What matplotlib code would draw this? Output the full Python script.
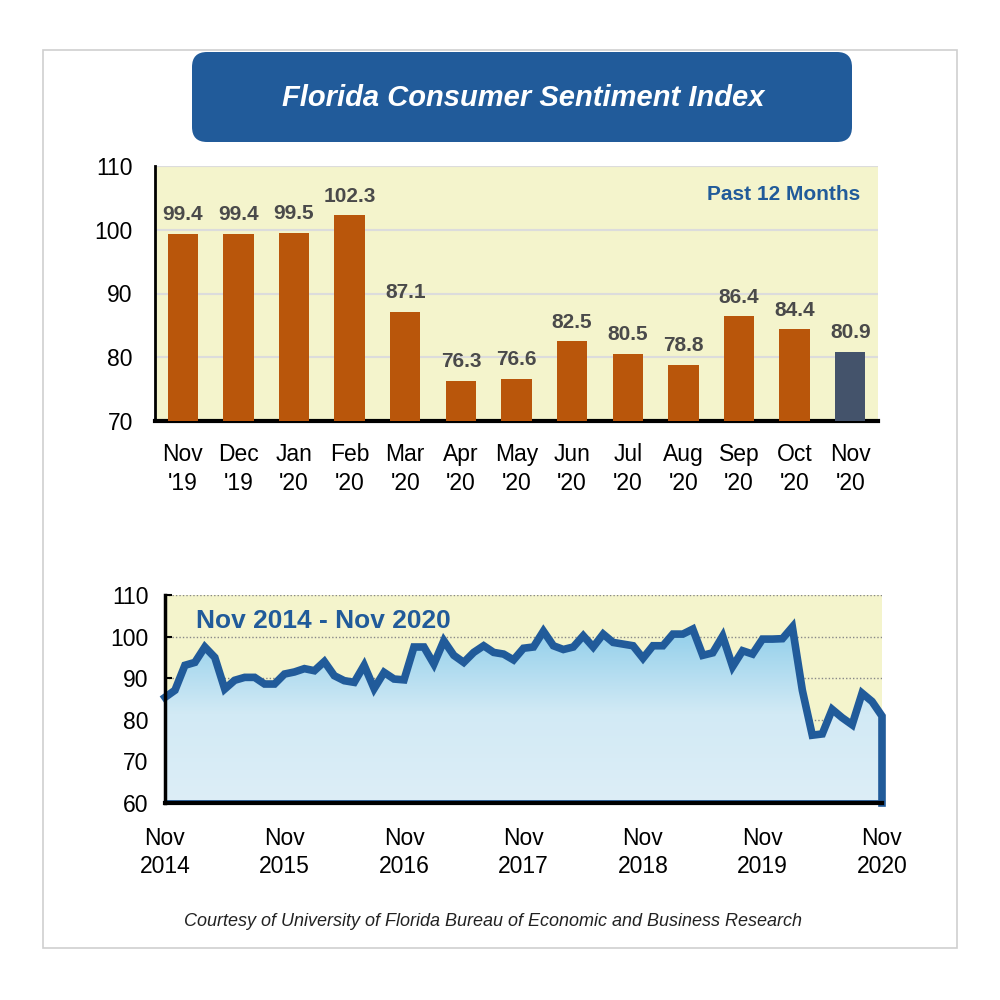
import matplotlib
matplotlib.use("Agg")
import matplotlib.pyplot as plt
import numpy as np
from matplotlib.patches import FancyBboxPatch, Rectangle, Polygon
from matplotlib.colors import LinearSegmentedColormap

FONT = ['Liberation Sans Narrow', 'Liberation Sans', 'DejaVu Sans']
plt.rcParams['font.family'] = FONT

# past 12 months
meses = ["Nov\n'19", "Dec\n'19", "Jan\n'20", "Feb\n'20", "Mar\n'20", "Apr\n'20", "May\n'20",
         "Jun\n'20", "Jul\n'20", "Aug\n'20", "Sep\n'20", "Oct\n'20", "Nov\n'20"]
valores = [99.4, 99.4, 99.5, 102.3, 87.1, 76.3, 76.6, 82.5, 80.5, 78.8, 86.4, 84.4, 80.9]

# serie mensal nov 2014 - out 2019, depois os 13 ultimos meses
historico = [85.4, 87.1,
             93.1, 93.8, 97.5, 95.0, 87.4, 89.5, 90.2, 90.2, 88.6, 88.6, 91.0, 91.5,
             92.3, 91.8, 94.0, 90.6, 89.4, 89.0, 93.1, 87.5, 91.4, 89.8, 89.6, 97.5,
             97.5, 93.4, 99.0, 95.5, 93.8, 96.2, 97.8, 96.2, 95.8, 94.4, 97.2, 97.5,
             101.3, 97.8, 96.9, 97.5, 100.2, 97.5, 100.6, 98.6, 98.2, 97.8, 94.8, 97.8,
             97.8, 100.6, 100.6, 101.8, 95.5, 96.1, 100.1, 92.8, 96.6, 95.8]
serie = historico + valores
anos = ["Nov\n2014", "Nov\n2015", "Nov\n2016", "Nov\n2017", "Nov\n2018", "Nov\n2019", "Nov\n2020"]

laranja = '#B9560B'
escuro = '#44536B'
azul = '#215B9A'
amarelo = '#F4F4CC'

fig = plt.figure(figsize=(10, 10), dpi=100, facecolor='w')

# moldura e titulo
fig.patches.append(Rectangle((0.043, 0.052), 0.914, 0.898, transform=fig.transFigure,
                             fill=False, edgecolor='#CFCFCF', linewidth=1.2))
fig.patches.append(FancyBboxPatch((0.207, 0.873), 0.63, 0.06, transform=fig.transFigure,
                                  boxstyle='round,pad=0.015,rounding_size=0.015',
                                  facecolor=azul, edgecolor='none'))
fig.text(0.523, 0.902, 'Florida Consumer Sentiment Index', color='w', fontsize=21,
         fontweight='bold', fontstyle='italic', ha='center', va='center')

# grafico de barras
ax1 = fig.add_axes([0.155, 0.579, 0.723, 0.255])
ax1.set_facecolor(amarelo)
x = np.arange(len(valores))
cores = [laranja] * (len(valores) - 1) + [escuro]
ax1.bar(x, [v - 70 for v in valores], bottom=70, width=0.545, color=cores, zorder=3)
for i, v in enumerate(valores):
    ax1.text(i, v + 1.5, f'{v:.1f}', ha='center', va='bottom', fontsize=15,
             fontweight='bold', color='#4A4A4A', zorder=4)
ax1.set_xlim(-0.5, 12.5)
ax1.set_ylim(70, 110)
ax1.set_yticks([70, 80, 90, 100, 110])
ax1.set_xticks(x)
ax1.set_xticklabels(meses, fontsize=16.5, linespacing=1.3)
ax1.tick_params(axis='y', length=0, pad=16, labelsize=16.5)
ax1.tick_params(axis='x', length=0, pad=16)
ax1.grid(axis='y', color='#DCDCDC', linewidth=1.5, zorder=1)
for s in ['top', 'right']:
    ax1.spines[s].set_visible(False)
ax1.spines['left'].set_linewidth(2)
ax1.spines['bottom'].set_linewidth(3)
ax1.text(0.975, 0.89, 'Past 12 Months', transform=ax1.transAxes, ha='right', va='center',
         fontsize=15, fontweight='bold', color=azul)

# grafico de linha
ax2 = fig.add_axes([0.165, 0.197, 0.717, 0.208])
ax2.set_facecolor(amarelo)
meses_x = np.arange(len(serie))
ax2.set_xlim(0, len(serie) - 1)
ax2.set_ylim(60, 110)
ax2.grid(axis='y', color='#888888', linestyle=(0, (1, 1.5)), linewidth=1, zorder=1)

grad = LinearSegmentedColormap.from_list('g', ['#DDEEF7', '#D2EAF5', '#8ECDEA'])
img = ax2.imshow(np.linspace(0, 1, 256).reshape(-1, 1), cmap=grad, aspect='auto',
                 origin='lower', extent=[0, len(serie) - 1, 60, 103], zorder=2)
pts = list(zip(meses_x, serie)) + [(len(serie) - 1, 60), (0, 60)]
poly = Polygon(pts, closed=True, facecolor='none', edgecolor='none')
ax2.add_patch(poly)
img.set_clip_path(poly)

ax2.plot(list(meses_x) + [len(serie) - 1], serie + [60], color=azul, linewidth=5.5,
         solid_joinstyle='miter', zorder=4, clip_on=False)
ax2.plot([0, len(serie) - 1], [60.4, 60.4], color=azul, linewidth=2, zorder=4)
ax2.set_yticks([60, 70, 80, 90, 100, 110])
ax2.set_xticks(np.arange(0, len(serie), 12))
ax2.set_xticklabels(anos, fontsize=16.5, linespacing=1.3)
ax2.tick_params(axis='y', direction='in', length=5, width=1.5, pad=12, labelsize=16.5)
ax2.tick_params(axis='x', direction='in', length=6, width=2, pad=17)
for s in ['top', 'right']:
    ax2.spines[s].set_visible(False)
ax2.spines['left'].set_linewidth(2.5)
ax2.spines['bottom'].set_linewidth(3)
for s in ['left', 'bottom']:
    ax2.spines[s].set_zorder(5)
ax2.text(0.043, 0.875, 'Nov 2014 - Nov 2020', transform=ax2.transAxes, ha='left', va='center',
         fontsize=19, fontweight='bold', color=azul, zorder=6)

fig.text(0.493, 0.079, 'Courtesy of University of Florida Bureau of Economic and Business Research',
         ha='center', va='center', fontsize=13, fontstyle='italic', color='#222222')

fig.savefig('out.png', dpi=100, facecolor='w')
